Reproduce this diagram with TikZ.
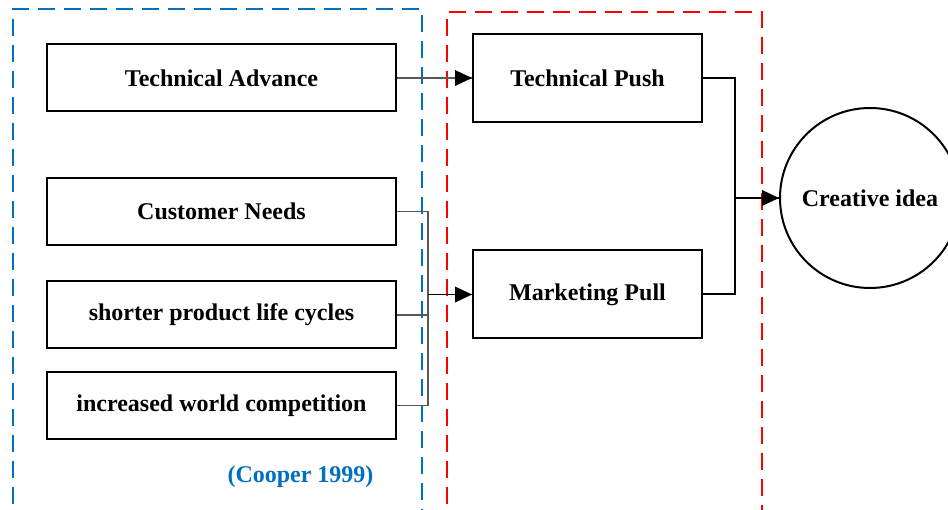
\documentclass[tikz,border=0pt]{standalone}
\usepackage{fontspec}
\setmainfont{Liberation Serif}
\usetikzlibrary{arrows.meta}
\definecolor{cblue}{HTML}{0070C0}
\definecolor{cred}{HTML}{FF0000}
\definecolor{cgray}{HTML}{595959}
\begin{document}
\begin{tikzpicture}[x=1pt,y=-1pt,
  box/.style={draw=black,line width=2pt,minimum width=349pt,minimum height=67pt,inner sep=0pt,font=\fontsize{24}{28}\selectfont\bfseries},
  rbox/.style={draw=black,line width=2pt,minimum width=229pt,minimum height=88pt,inner sep=0pt,font=\fontsize{24}{28}\selectfont\bfseries},
  region/.style={line width=2pt,dash pattern=on 17pt off 9pt},
  feed/.style={draw=cgray,line width=1.3pt},
  blackline/.style={draw=black,line width=2pt},
  head/.style={fill=black}]
\clip (0,0) rectangle (948,510);
\useasboundingbox (0,0) rectangle (948,510);
% dashed regions
\draw[region,draw=cblue] (13,530) -- (13,9) -- (422,9) -- (422,530);
\draw[region,draw=cred] (447,530) -- (447,12) -- (762,12) -- (762,530);
% boxes
\node[box] (ta) at (221.5,78) {Technical Advance};
\node[box] (cn) at (221.5,211.5) {Customer Needs};
\node[box] (sp) at (221.5,315) {shorter product life cycles};
\node[box] (iw) at (221.5,405.5) {increased world competition};
\node[rbox] (tp) at (587.5,78) {Technical Push};
\node[rbox] (mp) at (587.5,294.5) {Marketing Pull};
\node[draw=black,line width=2pt,circle,minimum size=180pt,inner sep=0pt,font=\fontsize{24}{28}\selectfont\bfseries] (ci) at (870,198) {Creative idea};
\node[text=cblue,font=\fontsize{24}{28}\selectfont\bfseries] (ref) at (300.5,477) {(Cooper 1999)};
% connectors
\coordinate (bus) at (428,294.5);
\draw[feed] (ta.east) -- (tp.west);
\draw[feed] (cn.east) -| (428,211.5) |- (iw.east);
\draw[feed] (sp.east) -- (428,315);
\draw[blackline,line width=1.5pt] (bus) -- (mp.west);
\coordinate (hub) at (735,198);
\draw[blackline] (tp.east) -| (hub) |- (mp.east);
\draw[blackline] (hub) -- (ci.west);
\fill[head] (ci.west) -- ++(-17,-8) -- ++(0,16) -- cycle;
\fill[head] (tp.west) -- ++(-17,-8) -- ++(0,16) -- cycle;
\fill[head] (mp.west) -- ++(-17,-8) -- ++(0,16) -- cycle;
\end{tikzpicture}
\end{document}
